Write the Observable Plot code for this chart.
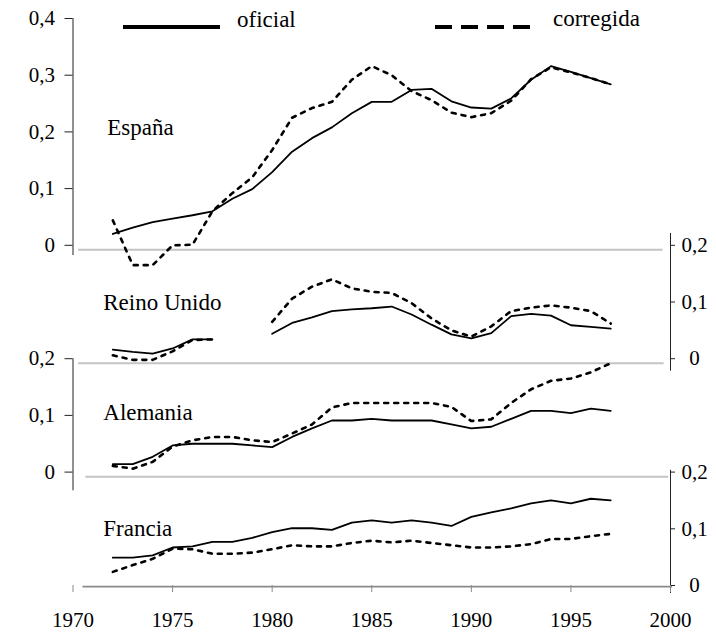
<!DOCTYPE html>
<html>
<head>
<meta charset="utf-8">
<script src="https://cdn.jsdelivr.net/npm/d3@7"></script>
<script src="https://cdn.jsdelivr.net/npm/@observablehq/plot@0.6"></script>
<style>
  body { margin: 0; background: #fff; }
  #wrap { position: relative; width: 716px; height: 633px; font-family: "Liberation Serif", "Times New Roman", serif; color: #000; }
  .leg { position: absolute; }
  .legtxt { position: absolute; font-size: 23px; line-height: 24px; white-space: nowrap; }
</style>
</head>
<body>
<div id="wrap">
  <div class="leg" style="left:123px; top:25px; width:97px; height:4px; background:#000;"></div>
  <div class="legtxt" style="left:237px; top:8px;">oficial</div>
  <div class="leg" style="left:435px; top:25px; width:95px; height:4px; background:repeating-linear-gradient(to right, #000 0 17px, transparent 17px 26px);"></div>
  <div class="legtxt" style="left:553px; top:7px;">corregida</div>
</div>
<script>
// ---- data (1972–1997) ----
const years = d3.range(1972, 1998);
const seriesNames = ["oficial", "corregida"];
const countries = ["España", "Reino Unido", "Alemania", "Francia"];
const xTickYears = [1970, 1975, 1980, 1985, 1990, 1995, 2000];

const espOficial   = [0.020, 0.031, 0.041, 0.047, 0.053, 0.060, 0.082, 0.099, 0.129, 0.165, 0.189, 0.208, 0.233, 0.253, 0.253, 0.274, 0.276, 0.254, 0.243, 0.241, 0.259, 0.292, 0.316, 0.306, 0.295, 0.284];
const espCorregida = [0.044, -0.035, -0.035, 0.000, 0.001, 0.060, 0.092, 0.120, 0.168, 0.225, 0.242, 0.253, 0.292, 0.316, 0.300, 0.272, 0.256, 0.234, 0.226, 0.233, 0.255, 0.293, 0.314, 0.305, 0.295, 0.284];

const ruOficial    = [0.016, 0.012, 0.009, 0.018, 0.034, 0.034, null, null, 0.044, 0.063, 0.073, 0.084, 0.087, 0.089, 0.092, 0.078, 0.060, 0.043, 0.036, 0.045, 0.075, 0.079, 0.076, 0.059, 0.056, 0.053];
const ruCorregida  = [0.006, -0.002, -0.002, 0.013, 0.033, 0.034, null, null, 0.065, 0.106, 0.127, 0.140, 0.124, 0.118, 0.116, 0.098, 0.071, 0.050, 0.039, 0.057, 0.084, 0.090, 0.094, 0.090, 0.084, 0.062];

const alOficial    = [0.014, 0.014, 0.027, 0.047, 0.050, 0.050, 0.050, 0.047, 0.044, 0.062, 0.077, 0.091, 0.091, 0.094, 0.091, 0.091, 0.091, 0.084, 0.077, 0.080, 0.094, 0.108, 0.108, 0.104, 0.112, 0.108];
const alCorregida  = [0.011, 0.006, 0.018, 0.045, 0.056, 0.062, 0.062, 0.056, 0.053, 0.068, 0.084, 0.114, 0.122, 0.122, 0.122, 0.122, 0.122, 0.115, 0.090, 0.093, 0.122, 0.146, 0.161, 0.165, 0.176, 0.192];

const frOficial    = [0.049, 0.049, 0.053, 0.067, 0.069, 0.077, 0.077, 0.084, 0.094, 0.101, 0.101, 0.098, 0.111, 0.115, 0.111, 0.115, 0.111, 0.105, 0.121, 0.129, 0.136, 0.145, 0.150, 0.145, 0.153, 0.150];
const frCorregida  = [0.024, 0.036, 0.047, 0.065, 0.064, 0.056, 0.056, 0.058, 0.064, 0.071, 0.069, 0.069, 0.075, 0.079, 0.076, 0.079, 0.075, 0.071, 0.067, 0.067, 0.069, 0.073, 0.082, 0.082, 0.087, 0.091];

// ---- layout of the stacked panels (each panel shifted by 0.2 on a shared scale) ----
const panels = [
  {name: countries[0], offset: 0.6, side: "left",  ticks: [0, 0.1, 0.2, 0.3, 0.4], of: espOficial, co: espCorregida, ly: 0.208, lx: 1971.72, axLo: 0.018, axHi: 0.4,  gx1: 1970.28, gx2: 1999.62},
  {name: countries[1], offset: 0.4, side: "right", ticks: [0, 0.1, 0.2],           of: ruOficial,  co: ruCorregida,  ly: 0.099, lx: 1971.52, axLo: 0.022, axHi: 0.221, gx1: 1970.28, gx2: 1999.68},
  {name: countries[2], offset: 0.2, side: "left",  ticks: [0, 0.1, 0.2],           of: alOficial,  co: alCorregida,  ly: 0.105, lx: 1971.52, axLo: 0.033, axHi: 0.2,  gx1: 1970.65, gx2: 1999.9},
  {name: countries[3], offset: 0.0, side: "right", ticks: [0, 0.1, 0.2],           of: frOficial,  co: frCorregida,  ly: 0.100, lx: 1971.52, axLo: 0.014, axHi: 0.203, gx1: 1970.5, gx2: 2000.1}
];

const rows = panels.flatMap(p => years.map((yr, i) => ({
  country: p.name,
  year: yr,
  oficial: p.of[i] == null ? NaN : p.of[i] + p.offset,
  corregida: p.co[i] == null ? NaN : p.co[i] + p.offset
})));

const fmt = v => {
  const r = Math.round(v * 10) / 10;
  return r === 0 ? "0" : r.toFixed(1).replace(".", ",");
};

const axisMarks = panels.map(p => {
  const vals = p.ticks.map(t => t + p.offset);
  const off = p.offset;
  return p.side === "left"
    ? Plot.axisY({anchor: "left", ticks: vals, tickSize: 8, tickPadding: 10, tickFormat: v => fmt(v - off), stroke: "#222", fill: "#000", fontSize: 21})
    : Plot.axisY({anchor: "right", ticks: vals, tickSize: 4, tickPadding: 20, textAnchor: "middle", tickFormat: v => fmt(v - off), stroke: "#222", fill: "#000", fontSize: 21});
});

const FONT = "'Liberation Serif', 'Times New Roman', serif";

const chart = Plot.plot({
  width: 716,
  height: 633,
  marginLeft: 72.5,
  marginRight: 46,
  marginTop: 18,
  marginBottom: 48,
  style: {fontFamily: FONT, fontSize: "21px", background: "transparent", color: "#000", overflow: "visible"},
  x: {domain: [1970, 2000]},
  y: {domain: [0, 1]},
  marks: [
    Plot.ruleY(panels.slice(0, 3), {y: p => p.offset - 0.008, x1: "gx1", x2: "gx2", stroke: "#c4c4c4", strokeWidth: 2}),
    Plot.ruleY(panels.slice(3), {y: p => p.offset - 0.002, x1: "gx1", x2: "gx2", stroke: "#8a8a8a", strokeWidth: 1.6}),
    Plot.ruleX(panels, {x: p => p.side === "left" ? 1970 : 2000, y1: p => p.offset - p.axLo, y2: p => p.offset + p.axHi, stroke: "#222", strokeWidth: 1}),
    ...axisMarks,
    Plot.axisX({ticks: xTickYears, tickSize: 7, tickPadding: 20, tickFormat: d => String(d), stroke: "#8a8a8a", fill: "#000", fontSize: 21}),
    Plot.line(rows, {x: "year", y: "oficial", z: "country", stroke: "#000", strokeWidth: 1.8}),
    Plot.line(rows, {x: "year", y: "corregida", z: "country", stroke: "#000", strokeWidth: 2.6, strokeDasharray: "4,6"}),
    Plot.text(panels, {x: "lx", y: p => p.offset + p.ly, text: "name", textAnchor: "start", fill: "#000", fontSize: 23})
  ]
});

document.getElementById("wrap").prepend(chart);
chart.style.position = "absolute";
chart.style.left = "0";
chart.style.top = "0";
</script>
</body>
</html>
